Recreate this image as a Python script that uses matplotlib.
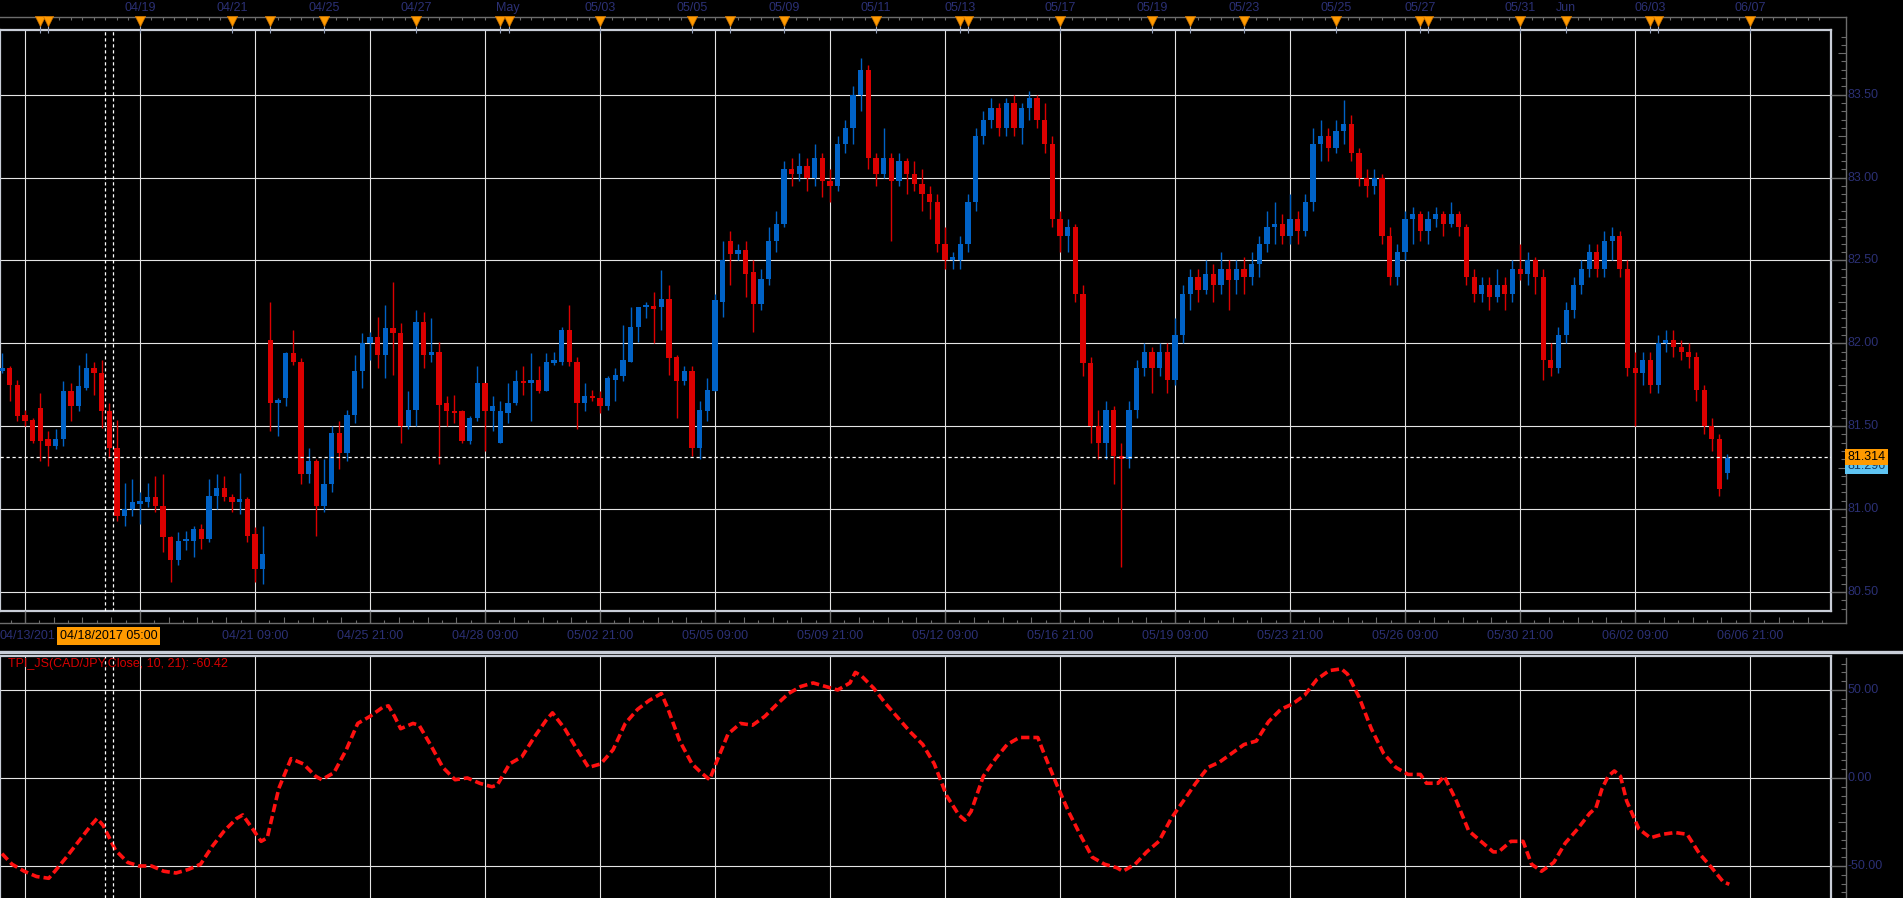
import matplotlib
matplotlib.use("Agg")
import matplotlib.pyplot as plt
import matplotlib.transforms as mtransforms
from matplotlib.lines import Line2D
import numpy as np

# CAD/JPY 4h candles (bar index = position)
opens = [81.83, 81.85, 81.75, 81.57, 81.54, 81.61, 81.42, 81.38, 81.42, 81.71,
         81.62, 81.73, 81.85, 81.82, 81.59, 81.37, 80.96, 81.00, 81.03, 81.04,
         81.07, 81.02, 80.83, 80.69, 80.81, 80.81, 80.88, 80.82, 81.08, 81.13,
         81.07, 81.04, 81.06, 80.85, 80.64, 82.02, 81.64, 81.67, 81.94, 81.89,
         81.21, 81.29, 81.02, 81.15, 81.46, 81.34, 81.57, 81.83, 82.00, 82.04,
         81.93, 82.09, 82.06, 81.50, 81.60, 82.13, 81.93, 81.95, 81.64, 81.59,
         81.59, 81.41, 81.55, 81.76, 81.59, 81.40, 81.58, 81.64, 81.77, 81.76,
         81.78, 81.71, 81.88, 81.89, 82.08, 81.89, 81.64, 81.68, 81.67, 81.62,
         81.78, 81.80, 81.89, 82.10, 82.22, 82.22, 82.22, 82.27, 81.92, 81.77,
         81.83, 81.37, 81.59, 81.71, 82.25, 82.62, 82.54, 82.56, 82.43, 82.24,
         82.39, 82.62, 82.72, 83.05, 83.02, 83.07, 83.00, 83.12, 82.98, 82.95,
         83.20, 83.30, 83.50, 83.65, 83.12, 83.02, 83.12, 82.98, 83.10, 83.02,
         82.96, 82.90, 82.85, 82.60, 82.50, 82.50, 82.60, 82.85, 83.25, 83.35,
         83.42, 83.30, 83.45, 83.30, 83.42, 83.48, 83.35, 83.20, 82.75, 82.65,
         82.70, 82.30, 81.88, 81.50, 81.40, 81.60, 81.32, 81.30, 81.60, 81.85,
         81.95, 81.85, 81.95, 81.78, 82.05, 82.30, 82.40, 82.32, 82.42, 82.35,
         82.45, 82.38, 82.45, 82.40, 82.48, 82.60, 82.70, 82.72, 82.65, 82.75,
         82.68, 82.85, 83.20, 83.25, 83.18, 83.28, 83.32, 83.15, 83.00, 82.95,
         83.00, 82.65, 82.40, 82.55, 82.75, 82.78, 82.68, 82.75, 82.78, 82.72,
         82.78, 82.70, 82.40, 82.30, 82.35, 82.28, 82.35, 82.30, 82.45, 82.42,
         82.50, 82.40, 81.90, 81.85, 82.05, 82.20, 82.35, 82.45, 82.55, 82.45,
         82.62, 82.65, 82.45, 81.85, 81.82, 81.90, 81.75, 82.00, 82.02, 81.98,
         81.95, 81.92, 81.72, 81.50, 81.42, 81.22]
highs = [81.94, 81.86, 81.78, 81.60, 81.55, 81.70, 81.47, 81.48, 81.77, 81.76,
         81.87, 81.94, 81.89, 81.90, 81.64, 81.54, 81.16, 81.18, 81.10, 81.16,
         81.20, 81.21, 80.84, 80.86, 80.87, 80.90, 80.91, 81.18, 81.21, 81.20,
         81.09, 81.22, 81.07, 80.89, 80.90, 82.25, 81.67, 81.95, 82.08, 81.91,
         81.37, 81.30, 81.30, 81.50, 81.53, 81.60, 81.93, 82.06, 82.07, 82.16,
         82.23, 82.37, 82.12, 81.71, 82.20, 82.19, 82.15, 82.01, 81.68, 81.69,
         81.60, 81.56, 81.86, 81.76, 81.68, 81.65, 81.76, 81.84, 81.86, 81.94,
         81.86, 81.94, 81.95, 82.10, 82.23, 81.92, 81.76, 81.72, 81.71, 81.80,
         81.85, 82.11, 82.22, 82.22, 82.25, 82.31, 82.44, 82.35, 81.93, 81.86,
         81.86, 81.65, 81.79, 82.30, 82.62, 82.68, 82.60, 82.62, 82.50, 82.45,
         82.70, 82.80, 83.10, 83.12, 83.15, 83.12, 83.20, 83.15, 83.05, 83.25,
         83.35, 83.55, 83.72, 83.68, 83.15, 83.30, 83.15, 83.15, 83.12, 83.10,
         83.05, 82.95, 82.90, 82.70, 82.55, 82.65, 82.90, 83.30, 83.40, 83.48,
         83.45, 83.48, 83.50, 83.45, 83.52, 83.50, 83.45, 83.25, 82.80, 82.75,
         82.72, 82.35, 81.92, 81.60, 81.65, 81.62, 81.40, 81.65, 81.90, 82.00,
         81.98, 82.00, 82.00, 82.15, 82.35, 82.45, 82.45, 82.50, 82.48, 82.55,
         82.50, 82.50, 82.52, 82.55, 82.65, 82.80, 82.85, 82.78, 82.90, 82.80,
         82.90, 83.30, 83.35, 83.30, 83.35, 83.47, 83.38, 83.18, 83.05, 83.05,
         83.02, 82.70, 82.60, 82.80, 82.82, 82.80, 82.80, 82.82, 82.80, 82.85,
         82.80, 82.72, 82.45, 82.40, 82.40, 82.45, 82.40, 82.50, 82.60, 82.55,
         82.52, 82.45, 82.00, 82.10, 82.25, 82.40, 82.50, 82.60, 82.60, 82.68,
         82.70, 82.68, 82.50, 81.95, 81.95, 81.95, 82.05, 82.08, 82.08, 82.02,
         82.00, 81.95, 81.75, 81.55, 81.45, 81.33]
lows = [81.82, 81.65, 81.53, 81.50, 81.40, 81.29, 81.26, 81.36, 81.38, 81.53,
        81.59, 81.72, 81.69, 81.49, 81.31, 80.93, 80.90, 80.96, 80.91, 81.01,
        80.98, 80.74, 80.56, 80.66, 80.75, 80.71, 80.76, 80.80, 81.00, 81.05,
        80.98, 80.97, 80.80, 80.56, 80.55, 81.47, 81.44, 81.62, 81.87, 81.15,
        81.16, 80.84, 80.98, 81.10, 81.24, 81.29, 81.52, 81.73, 81.90, 81.85,
        81.79, 81.81, 81.40, 81.48, 81.50, 81.85, 81.89, 81.27, 81.50, 81.52,
        81.40, 81.39, 81.53, 81.35, 81.47, 81.40, 81.52, 81.63, 81.69, 81.53,
        81.70, 81.71, 81.87, 81.87, 81.86, 81.48, 81.59, 81.65, 81.58, 81.60,
        81.65, 81.77, 81.89, 82.01, 82.15, 82.00, 82.08, 81.81, 81.55, 81.75,
        81.32, 81.30, 81.53, 81.71, 82.16, 82.35, 82.50, 82.28, 82.07, 82.20,
        82.35, 82.55, 82.70, 82.95, 82.98, 82.92, 82.95, 82.88, 82.85, 82.92,
        83.15, 83.20, 83.40, 83.05, 82.95, 83.00, 82.62, 82.95, 82.90, 82.92,
        82.80, 82.75, 82.55, 82.45, 82.45, 82.45, 82.55, 82.80, 83.20, 83.30,
        83.25, 83.25, 83.25, 83.20, 83.35, 83.30, 83.15, 82.70, 82.55, 82.55,
        82.25, 81.80, 81.40, 81.30, 81.30, 81.15, 80.65, 81.25, 81.55, 81.80,
        81.70, 81.80, 81.70, 81.75, 82.00, 82.20, 82.25, 82.30, 82.25, 82.30,
        82.20, 82.30, 82.30, 82.35, 82.40, 82.55, 82.60, 82.60, 82.60, 82.60,
        82.65, 82.80, 83.10, 83.10, 83.15, 83.20, 83.10, 82.95, 82.88, 82.90,
        82.60, 82.35, 82.35, 82.50, 82.60, 82.62, 82.60, 82.70, 82.65, 82.70,
        82.65, 82.35, 82.25, 82.25, 82.20, 82.25, 82.20, 82.25, 82.38, 82.35,
        82.30, 81.78, 81.80, 81.82, 82.00, 82.15, 82.30, 82.40, 82.40, 82.40,
        82.50, 82.40, 81.80, 81.50, 81.75, 81.70, 81.70, 81.95, 81.92, 81.90,
        81.85, 81.65, 81.45, 81.35, 81.08, 81.18]
closes = [81.85, 81.75, 81.56, 81.53, 81.41, 81.41, 81.38, 81.42, 81.71, 81.62,
          81.74, 81.85, 81.82, 81.59, 81.37, 80.96, 81.00, 81.04, 81.05, 81.07,
          81.02, 80.83, 80.69, 80.81, 80.82, 80.88, 80.82, 81.08, 81.13, 81.07,
          81.04, 81.06, 80.84, 80.64, 80.73, 81.64, 81.66, 81.94, 81.89, 81.21,
          81.29, 81.02, 81.15, 81.46, 81.34, 81.57, 81.83, 82.00, 82.04, 81.93,
          82.09, 82.06, 81.50, 81.60, 82.13, 81.93, 81.95, 81.63, 81.59, 81.58,
          81.41, 81.55, 81.76, 81.59, 81.62, 81.59, 81.64, 81.77, 81.76, 81.78,
          81.71, 81.89, 81.90, 82.08, 81.89, 81.64, 81.68, 81.67, 81.62, 81.79,
          81.81, 81.90, 82.10, 82.22, 82.23, 82.21, 82.27, 81.91, 81.77, 81.83,
          81.37, 81.60, 81.72, 82.26, 82.50, 82.54, 82.56, 82.42, 82.24, 82.39,
          82.62, 82.72, 83.05, 83.02, 83.07, 83.00, 83.12, 82.98, 82.95, 83.20,
          83.30, 83.50, 83.65, 83.12, 83.02, 83.12, 82.98, 83.10, 83.02, 82.96,
          82.90, 82.85, 82.60, 82.50, 82.52, 82.60, 82.85, 83.25, 83.35, 83.42,
          83.30, 83.45, 83.30, 83.42, 83.48, 83.35, 83.20, 82.75, 82.65, 82.70,
          82.30, 81.88, 81.50, 81.40, 81.60, 81.32, 81.30, 81.60, 81.85, 81.95,
          81.85, 81.95, 81.78, 82.05, 82.30, 82.40, 82.32, 82.42, 82.35, 82.45,
          82.38, 82.45, 82.40, 82.48, 82.60, 82.70, 82.72, 82.65, 82.75, 82.68,
          82.85, 83.20, 83.25, 83.18, 83.28, 83.32, 83.15, 83.00, 82.95, 83.00,
          82.65, 82.40, 82.55, 82.75, 82.78, 82.68, 82.75, 82.78, 82.72, 82.78,
          82.70, 82.40, 82.30, 82.35, 82.28, 82.35, 82.30, 82.45, 82.42, 82.50,
          82.40, 81.90, 81.85, 82.05, 82.20, 82.35, 82.45, 82.55, 82.45, 82.62,
          82.65, 82.45, 81.85, 81.82, 81.90, 81.75, 82.00, 82.02, 81.98, 81.95,
          81.92, 81.72, 81.50, 81.42, 81.12, 81.31]
last_price = 81.314
ask_price = 81.296

# TPI_JS indicator, sampled along the curve (bar, value)
tpi_bars = [0, 1.3, 2.9, 4.5, 6.1, 6.9, 8.4, 10.0, 11.6, 12.4, 13.2, 14.0, 14.8, 16.4,
            17.9, 19.5, 21.1, 22.7, 24.3, 25.9, 27.4, 29.0, 30.6, 31.4, 32.7, 33.8,
            34.6, 36.1, 37.7, 39.3, 40.9, 41.7, 43.3, 44.9, 46.4, 48.0, 49.6, 50.4,
            51.2, 52.0, 53.6, 54.4, 56.0, 57.5, 59.1, 60.7, 62.3, 63.9, 64.6, 66.2,
            67.8, 69.4, 71.0, 71.8, 73.4, 74.9, 76.5, 78.1, 79.7, 81.3, 82.9, 84.4,
            86.0, 86.8, 88.4, 90.0, 91.2, 92.3, 93.1, 94.7, 96.3, 97.9, 99.5, 101.1,
            102.6, 104.2, 105.8, 107.4, 109.0, 110.6, 111.3, 112.1, 113.7, 115.3,
            116.9, 118.5, 120.1, 121.6, 123.2, 124.8, 125.6, 126.4, 128.0, 129.6,
            131.1, 132.7, 134.3, 135.1, 135.9, 137.5, 139.1, 140.6, 142.2, 143.8,
            145.4, 146.2, 147.8, 149.3, 150.9, 152.5, 154.1, 155.7, 157.3, 158.8,
            160.4, 162.0, 163.6, 165.2, 166.8, 168.3, 169.9, 171.5, 173.1, 174.7,
            175.5, 177.0, 178.6, 180.2, 181.8, 183.4, 185.0, 185.8, 187.3, 188.1,
            189.7, 191.3, 192.9, 194.5, 195.2, 196.8, 198.4, 199.5, 200.8, 202.4,
            203.9, 205.5, 207.1, 207.9, 208.7, 209.5, 210.3, 211.1, 211.9, 213.5,
            215.0, 216.6, 218.2, 219.8, 221.4, 223.0, 224.5, 225.3]
tpi_vals = [-43, -49, -53, -56, -57, -53, -45, -36, -27, -23, -27, -34, -41, -48,
            -50, -50, -53, -54, -52, -49, -39, -30, -23, -21, -29, -36,
            -34, -6, 11, 8, 1, -1, 3, 16, 31, 35, 40, 41,
            35, 28, 31, 30, 18, 6, -1, 0, -3, -5, -4, 8,
            12, 23, 33, 37, 28, 17, 6, 8, 16, 31, 39, 44,
            48, 40, 21, 8, 3, -1, 8, 25, 31, 30, 35, 42,
            48, 52, 54, 52, 50, 54, 60, 58, 51, 42,
            34, 26, 19, 8, -10, -21, -24, -19, 1, 11,
            19, 23, 23, 23, 14, -3, -19, -32, -45, -49,
            -51, -53, -49, -42, -36, -23, -13, -3, 6, 9,
            14, 19, 21, 32, 39, 42, 47, 56, 61, 62,
            59, 46, 28, 14, 6, 2, 2, -3, -3, 1,
            -13, -30, -36, -42, -42, -36, -36, -49, -53, -48,
            -37, -29, -20, -17, -6, 1, 4, 1, -13, -29,
            -34, -32, -31, -32, -43, -51, -59, -60.42]
tpi_label = "TPI_JS(CAD/JPY.Close, 10, 21): -60.42"

# time axes
grid_bars = [3, 18, 33, 48, 63, 78, 93, 108, 123, 138, 153, 168, 183, 198, 213, 228]
bottom_labels = ["", "", "04/21 09:00", "04/25 21:00", "04/28 09:00", "05/02 21:00",
                 "05/05 09:00", "05/09 21:00", "05/12 09:00", "05/16 21:00",
                 "05/19 09:00", "05/23 21:00", "05/26 09:00", "05/30 21:00",
                 "06/02 09:00", "06/06 21:00"]
first_label = "04/13/201"   # rest of it sits under the crosshair tag
top_bars = [18, 30, 42, 54, 66, 78, 90, 102, 114, 125, 138, 150, 162, 174, 185,
            198, 204, 215, 228]
top_labels = ["04/19", "04/21", "04/25", "04/27", "May", "05/03", "05/05", "05/09",
              "05/11", "05/13", "05/17", "05/19", "05/23", "05/25", "05/27", "05/31",
              "Jun", "06/03", "06/07"]
event_bars = [5, 6, 18, 30, 35, 42, 54, 65, 66.1, 78, 90, 95, 102, 114, 125, 126,
              138, 150, 155, 162, 174, 185, 186, 198, 204, 215, 216, 228]
cross_bars = [13.4, 14.45]
cross_label = "04/18/2017 05:00"
price_ticks = [80.5, 81.0, 81.5, 82.0, 82.5, 83.0, 83.5]
tpi_ticks = [-50, 0, 50]

W, H = 1903, 898
BLUE = '#0062c6'
RED = '#dc0000'
NAVY = '#2b3074'
FRAME = '#c9ced8'
GRIDC = '#e4e4e4'
RULER = '#6c6c6c'
ORANGE = '#ff9a00'
FS = 9

plt.rcParams['font.family'] = ['Liberation Sans', 'DejaVu Sans']


def box(x0, y0, x1, y1):
    return [x0 / W, 1 - y1 / H, (x1 - x0) / W, (y1 - y0) / H]


fig = plt.figure(figsize=(W / 100, H / 100), dpi=100, facecolor='black')
ax1 = fig.add_axes(box(0, 30, 1831, 611))
ax2 = fig.add_axes(box(0, 656, 1831, 898), sharex=ax1)
axt = fig.add_axes(box(0, 0, 1831, 30), sharex=ax1)
axb = fig.add_axes(box(0, 611, 1831, 649), sharex=ax1)
axr1 = fig.add_axes(box(1831, 30, 1903, 611), sharey=ax1)
axr2 = fig.add_axes(box(1831, 656, 1903, 898), sharey=ax2)

for ax in (ax1, ax2):
    ax.set_facecolor('black')
    ax.tick_params(length=0, labelbottom=False, labelleft=False)
    for s in ax.spines.values():
        s.set_color(FRAME)
        s.set_linewidth(1.6)
    ax.grid(True, color=GRIDC, lw=0.8)
    ax.set_axisbelow(True)
ax2.spines['bottom'].set_visible(False)
for ax in (axt, axb, axr1, axr2):
    ax.set_axis_off()

ax1.set_xlim(-0.26, 238.56)
ax1.set_xticks(grid_bars)
ax1.set_ylim(80.385, 83.89)
ax1.set_yticks(price_ticks)
ax2.set_ylim(-68.2, 69.3)
ax2.set_yticks(tpi_ticks)

# candles
o, hi, lo, c = (np.array(v) for v in (opens, highs, lows, closes))
x = np.arange(len(c))
cols = np.where(c >= o, BLUE, RED)
ax1.vlines(x, lo, hi, colors=cols, lw=1.0, zorder=3)
body = np.abs(c - o)
bh = np.maximum(body, 0.014)
ax1.bar(x, bh, bottom=np.minimum(o, c) - (bh - body) / 2, width=0.66,
        color=cols, linewidth=0, zorder=4)

# last price and crosshair
ax1.axhline(last_price, color='white', lw=0.9, ls=(0, (2.6, 2.2)), zorder=5)
for b in cross_bars:
    for ax in (ax1, ax2):
        ax.axvline(b, color='white', lw=0.9, ls=(0, (2.6, 2.2)), zorder=5)

# indicator
ax2.plot(tpi_bars, tpi_vals, color='#ff1010', lw=2.6, dashes=(2.3, 1.1), zorder=4)
ax2.text(0.0044, 0.967, tpi_label, transform=ax2.transAxes, color='#d40000',
         fontsize=FS, ha='left', va='center')

# top date ruler
axt.set_ylim(30, 0)
tr = mtransforms.blended_transform_factory(axt.transAxes, axt.transData)
axt.plot([0, 1846 / 1831], [17, 17], transform=tr, color=RULER, lw=1, clip_on=False)
small = np.arange(top_bars[0] - 12, 238, 1.5)
axt.vlines(small, 17, 20, color=RULER, lw=0.8)
axt.vlines(top_bars, 17, 22, color=RULER, lw=0.8)
for b, t in zip(top_bars, top_labels):
    axt.text(b, 8, t, ha='center', va='center', color=NAVY, fontsize=FS)
axt.vlines(event_bars, 21, 32.5, color='#9aa6c0', lw=0.8, clip_on=False, zorder=4)
axt.scatter(event_bars, np.full(len(event_bars), 20.5), marker='v', s=55,
            color=ORANGE, edgecolors='#c87000', linewidths=0.5, zorder=5)

# bottom date ruler
axb.set_ylim(38, 0)
trb = mtransforms.blended_transform_factory(axb.transAxes, axb.transData)
axb.plot([0, 1846 / 1831], [12, 12], transform=trb, color=RULER, lw=1, clip_on=False)
axb.vlines(grid_bars, 0, 12, color=RULER, lw=1)
step = 15 / 8
for g in [grid_bars[0] - 15] + grid_bars:
    for k in range(1, 8):
        xb = g + k * step
        axb.vlines(xb, 9 if k % 2 else 6, 12, color=RULER, lw=0.8)
for b, t in zip(grid_bars, bottom_labels):
    if t:
        axb.text(b, 25, t, ha='center', va='center', color=NAVY, fontsize=FS)
axb.text(0.0, 25, first_label, transform=trb, ha='left', va='center',
         color=NAVY, fontsize=FS)
axb.text(np.mean(cross_bars), 25, cross_label, ha='center', va='center',
         color='black', fontsize=FS, zorder=6,
         bbox=dict(boxstyle='square,pad=0.22', fc=ORANGE, ec='none'))

# separator between panels
fig.add_artist(Line2D([0, 1], [1 - 651.5 / H] * 2, transform=fig.transFigure,
                      color=FRAME, lw=2.4))

# right price scale
axr1.set_xlim(0, 72)
trr = mtransforms.blended_transform_factory(axr1.transData, axr1.transAxes)
axr1.plot([15, 15], [1 + 13 / 581, -12 / 581], transform=trr, color=RULER, lw=1,
          clip_on=False)
fine = np.round(np.arange(80.40, 83.90, 0.05), 2)
for v in fine:
    if abs(v * 2 - round(v * 2)) < 1e-6:
        axr1.hlines(v, 0, 15, color=RULER, lw=1)
    elif abs(v * 4 - round(v * 4)) < 1e-6:
        axr1.hlines(v, 7, 15, color=RULER, lw=0.8)
    else:
        axr1.hlines(v, 10, 15, color=RULER, lw=0.8)
for v in price_ticks:
    axr1.text(17, v, f"{v:.2f}", ha='left', va='center', color=NAVY, fontsize=FS)
axr1.text(16.5, ask_price - 0.035, f"{ask_price:.3f}", ha='left', va='center',
          color='#123a66', fontsize=FS, zorder=5,
          bbox=dict(boxstyle='square,pad=0.18', fc='#5ec4f2', ec='none'))
axr1.text(16.5, last_price, f"{last_price:.3f}", ha='left', va='center',
          color='black', fontsize=FS, zorder=6,
          bbox=dict(boxstyle='square,pad=0.18', fc=ORANGE, ec='none'))

# right indicator scale
axr2.set_xlim(0, 72)
trr2 = mtransforms.blended_transform_factory(axr2.transData, axr2.transAxes)
axr2.plot([15, 15], [1 - 2 / 242, 0], transform=trr2, color=RULER, lw=1)
for v in range(-65, 70, 5):
    if v % 50 == 0:
        axr2.hlines(v, 0, 15, color=RULER, lw=1)
    elif v % 25 == 0:
        axr2.hlines(v, 7, 15, color=RULER, lw=0.8)
    else:
        axr2.hlines(v, 10, 15, color=RULER, lw=0.8)
for v in tpi_ticks:
    axr2.text(17, v, f"{v:.2f}", ha='left', va='center', color=NAVY, fontsize=FS)

fig.savefig("out.png", dpi=100, facecolor='black')
